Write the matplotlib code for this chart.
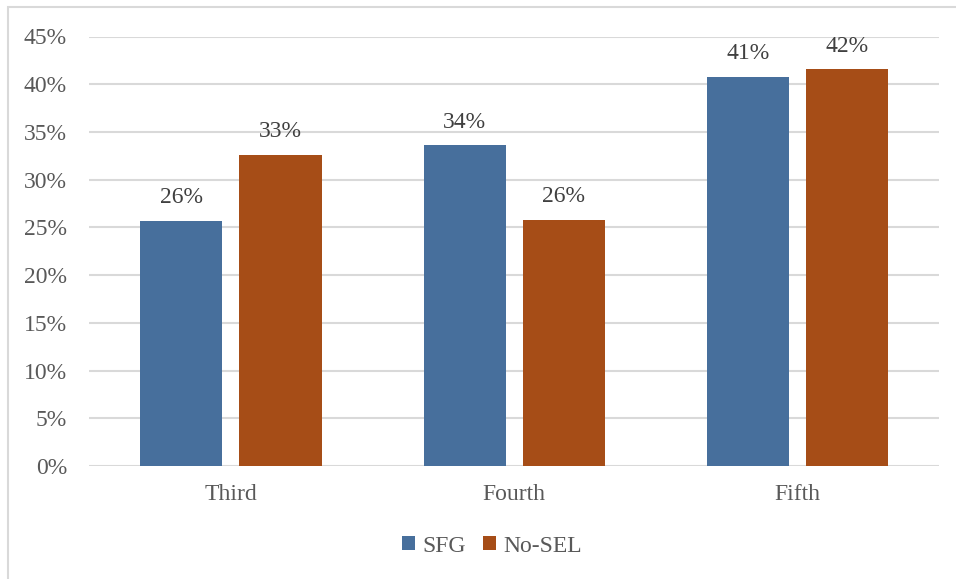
import matplotlib
matplotlib.use("Agg")
import matplotlib.pyplot as plt
from matplotlib import patches
import numpy as np

grades = ["Third", "Fourth", "Fifth"]
sfg = [0.257, 0.336, 0.408]
no_sel = [0.326, 0.258, 0.416]
series_names = ["SFG", "No-SEL"]
yticks = [0, 0.05, 0.10, 0.15, 0.20, 0.25, 0.30, 0.35, 0.40, 0.45]

blue = "#476F9C"
rust = "#A64D17"
grid_col = "#D9D9D9"
tick_col = "#595959"
label_col = "#404040"

plt.rcParams['font.family'] = 'serif'
plt.rcParams['font.serif'] = ['Liberation Serif']
fs = 17

fig = plt.figure(figsize=(9.56, 5.79), dpi=100)
ax = fig.add_axes([89.3 / 956, 113 / 579, 849.7 / 956, 429.5 / 579])

# light outline of the chart area
fig.patches.append(patches.Rectangle((8 / 956, -0.05), 1.1, (579 - 7) / 579 + 0.05,
                                     transform=fig.transFigure, fill=False,
                                     edgecolor=grid_col, linewidth=1.5))

x = np.arange(len(grades))
w = 0.29
off = 0.175
b1 = ax.bar(x - off, sfg, w, color=blue, label=series_names[0], zorder=3)
b2 = ax.bar(x + off, no_sel, w, color=rust, label=series_names[1], zorder=3)

for bars, vals in ((b1, sfg), (b2, no_sel)):
    for r, v in zip(bars, vals):
        ax.annotate(f"{v * 100:.0f}%", (r.get_x() + r.get_width() / 2, v),
                    xytext=(0, 12.5), textcoords="offset points",
                    ha="center", va="baseline", fontsize=fs, color=label_col)

ax.set_xlim(-0.5, 2.5)
ax.set_ylim(0, 0.45)
ax.set_yticks(yticks)
ax.set_yticklabels([f"{t * 100:.0f}%" for t in yticks])
ax.set_xticks(x)
ax.set_xticklabels(grades)
ax.tick_params(axis="y", length=0, pad=16, labelsize=fs, labelcolor=tick_col)
ax.tick_params(axis="x", length=0, pad=13, labelsize=fs, labelcolor=tick_col)
ax.grid(axis="y", color=grid_col, linewidth=1.5, zorder=0)
for s in ax.spines.values():
    s.set_visible(False)

fig.legend(loc="center", bbox_to_anchor=(492 / 956, (579 - 546) / 579), ncol=2,
           frameon=False, fontsize=fs, handlelength=0.55, handleheight=0.55,
           handletextpad=0.3, columnspacing=0.75, labelcolor=tick_col)

fig.savefig("out.png", dpi=100)
